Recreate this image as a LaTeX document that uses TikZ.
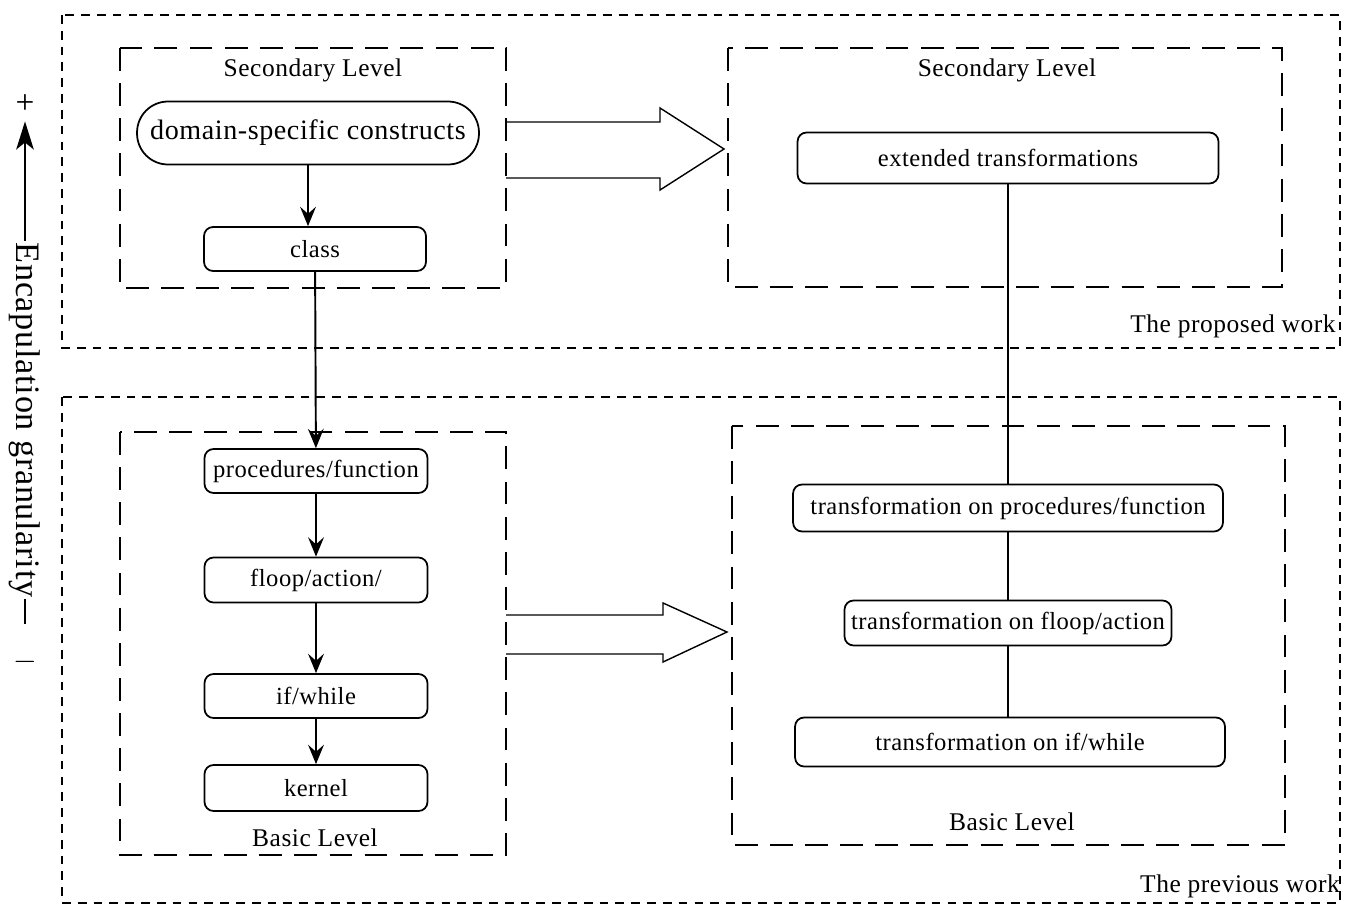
\documentclass[tikz,border=0pt]{standalone}
\usepackage{fontspec}
\setmainfont{Liberation Serif}[LetterSpace=2]
\usetikzlibrary{arrows.meta}

\begin{document}
\begin{tikzpicture}[x=0.02cm,y=-0.02cm,
    box/.style={draw, line width=1pt, rounded corners=0.18cm, inner sep=0pt,
                font=\fontsize{14}{16}\selectfont},
    flow/.style={line width=1.1pt, -{Stealth[length=11pt,width=9pt,inset=4pt]}},
    link/.style={line width=0.9pt},
    workframe/.style={line width=0.6pt, dash pattern=on 5pt off 4pt},
    levelframe/.style={line width=0.8pt, dash pattern=on 13pt off 7pt},
    hollow/.style={line width=0.8pt, line join=miter},
    lbl/.style={font=\fontsize{14.5}{17}\selectfont}]

    % Fix the canvas
    \useasboundingbox (0,0) rectangle (1351,906);

    % Outer frames (proposed / previous work)
    \draw[workframe] (62,15) rectangle (1340,348);
    \draw[workframe] (62,397) rectangle (1340,903);
    \node[lbl] (propw) at (1233,326) {The proposed work};
    \node[lbl] (prevw) at (1240,886) {The previous work};

    % Level frames
    \draw[levelframe] (120,48) rectangle (506,288);
    \draw[levelframe] (728,48) rectangle (1282,287);
    \draw[levelframe] (120,432) rectangle (506,855);
    \draw[levelframe] (732,426) rectangle (1285,845);
    \node[lbl] (secl) at (313,70) {Secondary Level};
    \node[lbl] (secr) at (1007,70) {Secondary Level};
    \node[lbl] (basl) at (315,838) {Basic Level};
    \node[lbl] (basr) at (1012,822) {Basic Level};

    % Left column
    \node[box, rounded corners=0.62cm, minimum width=6.84cm, minimum height=1.26cm,
          font=\fontsize{16}{18}\selectfont] (dsc) at (308,133) {domain-specific constructs};
    \node[box, minimum width=4.44cm, minimum height=0.88cm] (cls) at (315,249) {class};
    \node[box, minimum width=4.46cm, minimum height=0.88cm] (proc) at (316,471) {procedures/function};
    \node[box, minimum width=4.46cm, minimum height=0.9cm] (floop) at (316,580) {floop/action/};
    \node[box, minimum width=4.46cm, minimum height=0.88cm] (ifw) at (316,696) {if/while};
    \node[box, minimum width=4.46cm, minimum height=0.92cm] (kern) at (316,788) {kernel};

    % Right column
    \node[box, minimum width=8.42cm, minimum height=1.02cm] (ext) at (1008,158) {extended transformations};
    \node[box, minimum width=8.6cm, minimum height=0.94cm] (tproc) at (1008,508) {transformation on procedures/function};
    \node[box, minimum width=6.54cm, minimum height=0.9cm] (tfloop) at (1008,623) {transformation on floop/action};
    \node[box, minimum width=8.6cm, minimum height=0.98cm] (tif) at (1010,742) {transformation on if/while};

    % Connectors
    \draw[flow] (dsc.south) -- (dsc.south |- cls.north);
    \foreach \a/\b in {cls/proc, proc/floop, floop/ifw, ifw/kern}
        \draw[flow] (\a) -- (\b);
    \foreach \a/\b in {ext/tproc, tproc/tfloop}
        \draw[link] (\a) -- (\b);
    \draw[link] (tfloop.south) -- (tfloop.south |- tif.north);

    % Hollow arrows between frames
    \draw[hollow] (506,122) -- (660,122) -- (660,108) -- (724,149)
        -- (660,190) -- (660,178) -- (506,178);
    \draw[hollow] (506,615) -- (663,615) -- (663,603) -- (727,632)
        -- (663,662) -- (663,654) -- (506,654);

    % Granularity axis
    \node[font=\fontsize{19}{21}\selectfont] (plus) at (25,104) {+};
    \node[font=\fontsize{19}{21}\selectfont] (minus) at (25,662) {$-$};
    \node[rotate=-90, inner sep=1pt, font=\fontsize{19.5}{21}\selectfont] (axislbl) at (25,420)
        {Encapulation granularity};
    \draw[line width=1.1pt, -{Stealth[length=16pt,width=10pt,inset=4pt]}]
        (axislbl.west) -- ([yshift=-1pt]plus.south);
    \draw[line width=1.1pt] (axislbl.east) -- (25,624);
\end{tikzpicture}
\end{document}
